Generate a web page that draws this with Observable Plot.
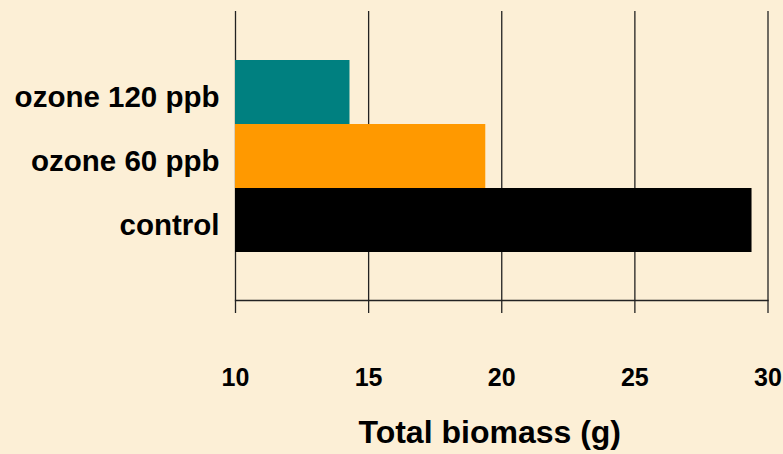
<!DOCTYPE html>
<html><head><meta charset="utf-8">
<script src="https://cdn.jsdelivr.net/npm/d3@7"></script>
<script src="https://cdn.jsdelivr.net/npm/@observablehq/plot@0.6"></script>
<style>html,body{margin:0;padding:0;background:#FCEFD6;}</style>
</head><body><div id="chart"></div>
<script>
const treatments = ["ozone 120 ppb", "ozone 60 ppb", "control"];
const biomass = [14.3, 19.4, 29.4];
const colors = ["#008080", "#FF9900", "#000000"];
const xTicks = [10, 15, 20, 25, 30];
const xLabel = "Total biomass (g)";

const data = treatments.map((t, i) => ({treatment: t, biomass: biomass[i]}));

const chart = Plot.plot({
  width: 783, height: 454,
  marginLeft: 235, marginRight: 15.5, marginTop: 11, marginBottom: 154,
  style: {background: "transparent", fontFamily: "'Liberation Sans', Arial, sans-serif", fontWeight: "bold", color: "#000", overflow: "visible"},
  x: {domain: [xTicks[0], xTicks[xTicks.length - 1]], clamp: true},
  y: {domain: treatments, paddingInner: 0, paddingOuter: 0.75},
  color: {domain: treatments, range: colors},
  marks: [
    Plot.ruleX(xTicks, {stroke: "#222", strokeWidth: 1.3}),
    Plot.barX(data, {x: "biomass", y: "treatment", fill: "treatment"}),
    Plot.frame({anchor: "bottom", stroke: "#222", strokeWidth: 1.3}),
    Plot.axisX({ticks: xTicks, tickSize: 13, tickPadding: 55, fontSize: 25, stroke: "#222", strokeWidth: 1.3, label: null, tickFormat: d => String(d)}),
    Plot.axisY({tickSize: 0, tickPadding: 16, fontSize: 29.5, dy: 5, label: null}),
    Plot.text([xLabel], {text: d => d, frameAnchor: "bottom", dy: 142, dx: -12, fontSize: 32, lineAnchor: "bottom", fontWeight: "bold"})
  ]
});
document.getElementById("chart").appendChild(chart);
</script>
</body></html>
